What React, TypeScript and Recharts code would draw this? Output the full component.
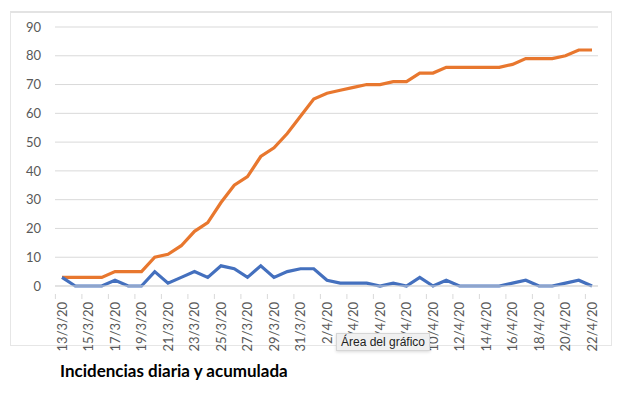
import { LineChart, Line, XAxis, YAxis, CartesianGrid } from 'recharts'

const fechas = [
  '13/3/20', '14/3/20', '15/3/20', '16/3/20', '17/3/20', '18/3/20', '19/3/20', '20/3/20',
  '21/3/20', '22/3/20', '23/3/20', '24/3/20', '25/3/20', '26/3/20', '27/3/20', '28/3/20',
  '29/3/20', '30/3/20', '31/3/20', '1/4/20', '2/4/20', '3/4/20', '4/4/20', '5/4/20',
  '6/4/20', '7/4/20', '8/4/20', '9/4/20', '10/4/20', '11/4/20', '12/4/20', '13/4/20',
  '14/4/20', '15/4/20', '16/4/20', '17/4/20', '18/4/20', '19/4/20', '20/4/20', '21/4/20',
  '22/4/20',
]

const diaria = [
  3, 0, 0, 0, 2, 0, 0, 5, 1, 3, 5, 3, 7, 6, 3, 7, 3, 5, 6, 6,
  2, 1, 1, 1, 0, 1, 0, 3, 0, 2, 0, 0, 0, 0, 1, 2, 0, 0, 1, 2, 0,
]

const acumulada = [
  3, 3, 3, 3, 5, 5, 5, 10, 11, 14, 19, 22, 29, 35, 38, 45, 48, 53, 59, 65,
  67, 68, 69, 70, 70, 71, 71, 74, 74, 76, 76, 76, 76, 76, 77, 79, 79, 79, 80, 82, 82,
]

const yTicks = [0, 10, 20, 30, 40, 50, 60, 70, 80, 90]

const data = fechas.map((fecha, i) => ({ fecha, diaria: diaria[i], acumulada: acumulada[i] }))

const FONT = 'Lato, "Noto Sans", sans-serif'
const GRAY_TEXT = '#595959'
const GRID = '#d9d9d9'

// rotated date label with the tick mark sitting on the category boundary
function DateTick({ x, y, payload }: any) {
  const half = 6.6
  return (
    <g>
      <line x1={x - half} y1={y} x2={x - half} y2={y + 5} stroke={GRID} />
      <text
        x={x}
        y={y + 8}
        transform={`rotate(-90, ${x}, ${y + 8})`}
        textAnchor="end"
        dy="0.35em"
        fill={GRAY_TEXT}
        fontSize={13}
        fontFamily={FONT}
      >
        {payload.value}
      </text>
    </g>
  )
}

export default function App() {
  return (
    <div style={{ position: 'fixed', left: 0, top: 0, width: 625, height: 395, background: '#fff' }}>
      <div
        style={{
          position: 'absolute',
          left: 10,
          top: 11,
          width: 600,
          height: 332,
          borderTop: '2px solid #e3e3e3',
          borderLeft: '1px solid #e6e6e6',
          borderRight: '1px solid #e6e6e6',
          borderBottom: '1px solid #e6e6e6',
        }}
      />
      <div style={{ position: 'absolute', left: 0, top: 0 }}>
        <LineChart width={625} height={395} data={data} margin={{ top: 27, right: 27, left: 15, bottom: 49 }}>
          <CartesianGrid horizontal vertical={false} stroke={GRID} strokeWidth={1} />
          <XAxis
            dataKey="fecha"
            interval={1}
            padding={{ left: 7, right: 6 }}
            axisLine={{ stroke: GRID }}
            tickLine={false}
            tick={<DateTick />}
            height={60}
          />
          <YAxis
            domain={[0, 90]}
            ticks={yTicks}
            width={40}
            axisLine={false}
            tickLine={false}
            tickSize={0}
            tickMargin={14}
            tick={{ fill: GRAY_TEXT, fontSize: 13, fontFamily: FONT }}
          />
          <Line
            dataKey="acumulada"
            stroke="#E8772E"
            strokeWidth={3.2}
            dot={false}
            type="linear"
            isAnimationActive={false}
          />
          <Line
            dataKey="diaria"
            stroke="#4470BE"
            strokeWidth={3.2}
            dot={false}
            type="linear"
            isAnimationActive={false}
          />
        </LineChart>
      </div>
      <div
        style={{
          position: 'absolute',
          left: 336,
          top: 333,
          height: 16,
          padding: '0 4px',
          background: '#f0f0f0',
          border: '1px solid #d6d6d6',
          boxShadow: '0 1px 3px rgba(0,0,0,0.15)',
          fontFamily: '"Liberation Sans", Arial, sans-serif',
          fontSize: 12,
          lineHeight: '16px',
          color: '#222',
          whiteSpace: 'nowrap',
        }}
      >
        Área del gráfico
      </div>
      <div
        style={{
          position: 'absolute',
          left: 60,
          top: 360,
          fontFamily: FONT,
          fontWeight: 700,
          fontSize: 17,
          color: '#000',
          whiteSpace: 'nowrap',
        }}
      >
        Incidencias diaria y acumulada
      </div>
    </div>
  )
}
